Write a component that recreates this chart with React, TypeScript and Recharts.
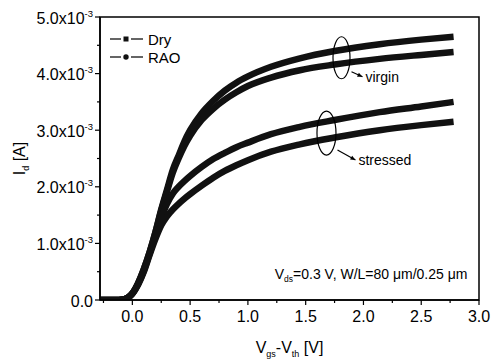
import React from "react";
import { LineChart, Line, XAxis, YAxis, ReferenceDot, ReferenceArea, Label } from "recharts";

// Vgs - Vth [V]
const vov = [-0.28, -0.15, -0.08, -0.04, 0, 0.05, 0.1, 0.15, 0.2, 0.25, 0.3, 0.35, 0.4, 0.45, 0.5, 0.6, 0.7, 0.8, 0.9, 1.0, 1.2, 1.45, 1.75, 2.14, 2.5, 2.78];
// Id in units of 1e-3 A
const dryVirgin = [0, 0, 0.01, 0.04, 0.12, 0.3, 0.55, 0.85, 1.2, 1.6, 1.95, 2.3, 2.55, 2.8, 3.0, 3.3, 3.52, 3.7, 3.84, 3.95, 4.12, 4.27, 4.4, 4.52, 4.6, 4.65];
const raoVirgin = [0, 0, 0.01, 0.04, 0.12, 0.3, 0.55, 0.85, 1.2, 1.58, 1.92, 2.25, 2.5, 2.72, 2.9, 3.18, 3.38, 3.54, 3.67, 3.78, 3.93, 4.06, 4.16, 4.26, 4.33, 4.38];
const dryStressed = [0, 0, 0.01, 0.04, 0.11, 0.28, 0.52, 0.82, 1.15, 1.45, 1.7, 1.88, 2.0, 2.1, 2.19, 2.35, 2.49, 2.6, 2.7, 2.78, 2.93, 3.06, 3.18, 3.32, 3.42, 3.5];
const raoStressed = [0, 0, 0.01, 0.04, 0.11, 0.27, 0.5, 0.8, 1.08, 1.32, 1.48, 1.6, 1.7, 1.79, 1.87, 2.02, 2.16, 2.28, 2.38, 2.47, 2.62, 2.75, 2.87, 3.0, 3.09, 3.15];

const xMajorTicks = [0, 0.5, 1.0, 1.5, 2.0, 2.5, 3.0];
const xTickLabels = ["0.0", "0.5", "1.0", "1.5", "2.0", "2.5", "3.0"];
const xMinorTicks = [-0.25, 0.25, 0.75, 1.25, 1.75, 2.25, 2.75];
const yMajorTicks = [0, 1, 2, 3, 4, 5];
const yTickMantissa = ["0.0", "1.0", "2.0", "3.0", "4.0", "5.0"];
const yMinorTicks = [0.5, 1.5, 2.5, 3.5, 4.5];

const legendEntries = [
  { name: "Dry", marker: "square" },
  { name: "RAO", marker: "circle" },
];

const groupNotes = [
  { label: "virgin", x: 1.81, y: 4.28 },
  { label: "stressed", x: 1.68, y: 2.95 },
];

const FONT = "'Liberation Sans', Arial, sans-serif";
const INK = "#111";

const toSeries = (ys: number[]) => vov.map((x, i) => ({ x, y: ys[i] }));
const series = [dryVirgin, raoVirgin, dryStressed, raoStressed].map(toSeries);

const XTick = (props: any) => {
  const { x, y, payload } = props;
  const idx = xMajorTicks.indexOf(payload.value);
  const major = idx >= 0;
  return (
    <g>
      <line x1={x} x2={x} y1={y} y2={y + (major ? 5 : 3)} stroke="#000" strokeWidth={1.2} />
      {major && (
        <text x={x} y={y + 22} textAnchor="middle" fontSize={16} fontFamily={FONT} fill="#000">
          {xTickLabels[idx]}
        </text>
      )}
    </g>
  );
};

const YTick = (props: any) => {
  const { x, y, payload } = props;
  const idx = yMajorTicks.indexOf(payload.value);
  const major = idx >= 0;
  return (
    <g>
      <line x1={x} x2={x - (major ? 5 : 3)} y1={y} y2={y} stroke="#000" strokeWidth={1.2} />
      {major && (
        <text x={x - 7} y={y + 6.5} textAnchor="end" fontSize={16} fontFamily={FONT} fill="#000">
          {idx === 0 ? (
            yTickMantissa[idx]
          ) : (
            <>
              <tspan>{yTickMantissa[idx] + "x10"}</tspan>
              <tspan dy={-7} fontSize={9.5}>-3</tspan>
            </>
          )}
        </text>
      )}
    </g>
  );
};

const XTitle = (props: any) => {
  const vb = props.viewBox || { x: 100, y: 300, width: 379, height: 59 };
  const cx = vb.x + vb.width / 2;
  return (
    <text x={cx} y={vb.y + 53} textAnchor="middle" fontSize={16} fontFamily={FONT} fill="#000">
      <tspan>V</tspan>
      <tspan dy={4} fontSize={9}>gs</tspan>
      <tspan dy={-4}>-V</tspan>
      <tspan dy={4} fontSize={9}>th</tspan>
      <tspan dy={-4}> [V]</tspan>
    </text>
  );
};

const YTitle = (props: any) => {
  const vb = props.viewBox || { x: 0, y: 17, width: 100, height: 283 };
  const cy = vb.y + vb.height / 2;
  const cx = 25;
  return (
    <text x={cx} y={cy} transform={`rotate(-90 ${cx} ${cy})`} textAnchor="middle" fontSize={16} fontFamily={FONT} fill="#000">
      <tspan>I</tspan>
      <tspan dy={4} fontSize={9}>d</tspan>
      <tspan dy={-4}> [A]</tspan>
    </text>
  );
};

const LegendBox = () => (
  <svg width={80} height={40} style={{ position: "absolute", left: 108, top: 30 }}>
    {legendEntries.map((e, i) => {
      const cy = 9 + i * 18;
      return (
        <g key={e.name}>
          <line x1={2} x2={13} y1={cy} y2={cy} stroke={INK} strokeWidth={1.3} />
          <line x1={23} x2={35} y1={cy} y2={cy} stroke={INK} strokeWidth={1.3} />
          {e.marker === "square" ? (
            <rect x={15.5} y={cy - 2.5} width={5} height={5} fill={INK} />
          ) : (
            <circle cx={18} cy={cy} r={2.7} fill={INK} />
          )}
          <text x={40} y={cy + 5.5} fontSize={15} fontFamily={FONT} fill="#000">
            {e.name}
          </text>
        </g>
      );
    })}
  </svg>
);

const GroupNote = (props: any) => {
  const { cx, cy, label, rx, ry, ax1, ay1, ax2, ay2 } = props;
  const ang = Math.atan2(ay2 - ay1, ax2 - ax1);
  const hx = cx + ax2;
  const hy = cy + ay2;
  const L = 5;
  const W = 2.2;
  const p1 = `${hx},${hy}`;
  const p2 = `${hx - L * Math.cos(ang) + W * Math.sin(ang)},${hy - L * Math.sin(ang) - W * Math.cos(ang)}`;
  const p3 = `${hx - L * Math.cos(ang) - W * Math.sin(ang)},${hy - L * Math.sin(ang) + W * Math.cos(ang)}`;
  return (
    <g>
      <ellipse cx={cx} cy={cy} rx={rx} ry={ry} fill="none" stroke="#000" strokeWidth={1.2} />
      <line x1={cx + ax1} y1={cy + ay1} x2={hx} y2={hy} stroke="#000" strokeWidth={1.2} />
      <polygon points={`${p1} ${p2} ${p3}`} fill="#000" />
      <text x={hx + 3} y={hy + 5} fontSize={14} fontFamily={FONT} fill="#000">
        {label}
      </text>
    </g>
  );
};

const CondNote = (props: any) => {
  const { cx, cy } = props;
  return (
    <text x={cx} y={cy} textAnchor="end" fontSize={14} fontFamily={FONT} fill="#000">
      <tspan>V</tspan>
      <tspan dy={3} fontSize={8.5}>ds</tspan>
      <tspan dy={-3}>=0.3 V, W/L=80 μm/0.25 μm</tspan>
    </text>
  );
};

export default function App() {
  return (
    <div style={{ position: "absolute", left: 0, top: 0, width: 491, height: 359, background: "#fff" }}>
      <LineChart width={491} height={359} margin={{ top: 17, right: 12, bottom: 0, left: 0 }}>
        <XAxis
          type="number"
          dataKey="x"
          domain={[-0.28, 3]}
          allowDataOverflow
          ticks={[...xMinorTicks, ...xMajorTicks].sort((a, b) => a - b)}
          interval={0}
          tick={<XTick />}
          tickLine={false}
          tickSize={0}
          tickMargin={0}
          height={59}
          axisLine={{ stroke: "#000", strokeWidth: 1.5 }}
        >
          <Label content={<XTitle />} />
        </XAxis>
        <YAxis
          type="number"
          domain={[0, 5]}
          allowDataOverflow
          ticks={[...yMinorTicks, ...yMajorTicks].sort((a, b) => a - b)}
          interval={0}
          tick={<YTick />}
          tickLine={false}
          tickSize={0}
          tickMargin={0}
          width={100}
          axisLine={{ stroke: "#000", strokeWidth: 1.5 }}
        >
          <Label content={<YTitle />} />
        </YAxis>
        <ReferenceArea x1={-0.28} x2={3} y1={0} y2={5} fill="none" stroke="#000" strokeWidth={1.5} ifOverflow="visible" />
        {series.map((d, i) => (
          <Line
            key={i}
            data={d}
            dataKey="y"
            type="monotone"
            stroke={INK}
            strokeWidth={6.5}
            dot={false}
            isAnimationActive={false}
            legendType="none"
          />
        ))}
        <ReferenceDot
          x={groupNotes[0].x}
          y={groupNotes[0].y}
          r={0}
          ifOverflow="visible"
          shape={(p: any) => (
            <GroupNote cx={p.cx} cy={p.cy} label={groupNotes[0].label} rx={8.5} ry={21} ax1={10} ay1={14} ax2={21} ay2={19} />
          )}
        />
        <ReferenceDot
          x={groupNotes[1].x}
          y={groupNotes[1].y}
          r={0}
          ifOverflow="visible"
          shape={(p: any) => (
            <GroupNote cx={p.cx} cy={p.cy} label={groupNotes[1].label} rx={9.5} ry={22} ax1={11} ay1={17} ax2={29} ay2={27} />
          )}
        />
        <ReferenceDot x={2.9} y={0.37} r={0} ifOverflow="visible" shape={(p: any) => <CondNote cx={p.cx} cy={p.cy} />} />
      </LineChart>
      <LegendBox />
    </div>
  );
}
